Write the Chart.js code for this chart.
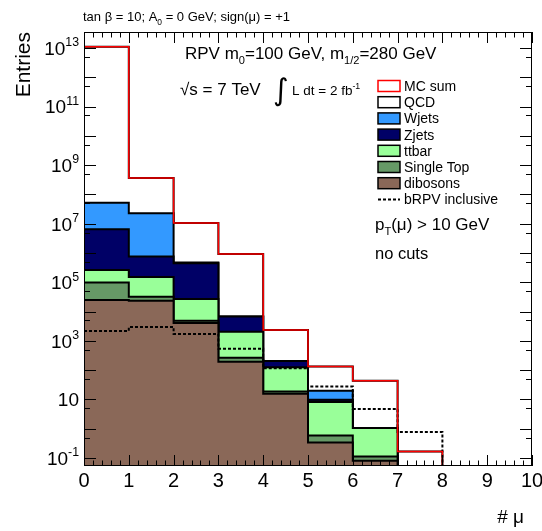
<!DOCTYPE html>
<html>
<head>
<meta charset="utf-8">
<script src="https://cdn.jsdelivr.net/npm/chart.js@4.4.1/dist/chart.umd.min.js"></script>
<style>
  html, body { margin: 0; padding: 0; background: #fff; }
  canvas { display: block; }
</style>
</head>
<body>
<canvas id="muChart" width="542" height="531"></canvas>
<script>
// bin edges of the # mu distribution (10 bins of width 1)
const binEdges = [0, 1, 2, 3, 4, 5, 6, 7, 8, 9, 10];

// entries per bin
const qcd       = [1.1e13, 3.4e8, 1.02e7, 9.2e5, 2.16e3, 113, 42, 0.167, 0, 0];
const wjets     = [4.6e7, 2.21e7, 2.1e4, 0, 0, 10, 0, 0, 0, 0];
const zjets     = [6.2e6, 6.1e5, 4.22e5, 4.7e3, 81, 1.6, 0, 0, 0, 0];
const ttbar     = [1.65e5, 1.19e5, 2.23e4, 1.8e3, 107, 7.5, 0.94, 0, 0, 0];
const singleTop = [7.3e4, 9.0e3, 720, 71, 3.1, 0.25, 0.032, 0, 0, 0];
const dibosons  = [2.5e4, 2.33e4, 4.1e3, 192, 15.5, 0.34, 0.08, 0, 0, 0];
const bRPV      = [2.19e3, 3.0e3, 1.73e3, 533, 117, 27.5, 4.67, 0.77, 0, 0];

// axis ticks
const yLabelPowers = [-1, 1, 3, 5, 7, 9, 11, 13];
const xTickLabels = ['0', '1', '2', '3', '4', '5', '6', '7', '8', '9', '10'];

const FONT = '"Liberation Sans", Arial, Helvetica, sans-serif';
const EMPTY = 1e-4; // empty bins go below the axis

// stack from bottom to top
const stack = [
    { label: 'dibosons',   values: dibosons,  color: '#8a6858' },
    { label: 'Single Top', values: singleTop, color: '#669966' },
    { label: 'ttbar',      values: ttbar,     color: '#99ff99' },
    { label: 'Zjets',      values: zjets,     color: '#000066' },
    { label: 'Wjets',      values: wjets,     color: '#3399ff' },
    { label: 'QCD',        values: qcd,       color: '#ffffff' }
];

// histogram -> points for a stepped line
function toSteps(values) {
    return binEdges.map((x, i) => {
        const v = values[Math.min(i, values.length - 1)];
        return { x: x, y: v > 0 ? v : EMPTY };
    });
}

const datasets = [];
let running = new Array(binEdges.length - 1).fill(0);
stack.forEach((h, k) => {
    running = running.map((s, i) => s + h.values[i]);
    datasets.push({
        label: h.label,
        data: toSteps(running),
        backgroundColor: h.color,
        borderColor: '#000',
        borderWidth: 2,
        fill: 'start',
        order: 2 + k
    });
});
const mcSum = running.slice();

datasets.push({
    label: 'MC sum',
    data: toSteps(mcSum),
    borderColor: '#ff0000',
    borderWidth: 1.5,
    fill: false,
    order: 0
});
datasets.push({
    label: 'bRPV inclusive',
    data: toSteps(bRPV),
    borderColor: '#000',
    borderWidth: 2,
    borderDash: [3, 2],
    fill: false,
    order: 1
});

// text with sub/superscripts: parts = [[text, mode]], mode 0 normal, 1 sub, 2 sup
function drawRich(ctx, x, y, parts, size, align) {
    const small = size * 0.65;
    const widths = parts.map(([t, m]) => {
        ctx.font = (m ? small : size) + 'px ' + FONT;
        return ctx.measureText(t).width;
    });
    const total = widths.reduce((a, b) => a + b, 0);
    let cx = align === 'right' ? x - total : (align === 'center' ? x - total / 2 : x);
    ctx.textAlign = 'left';
    ctx.textBaseline = 'alphabetic';
    parts.forEach(([t, m], i) => {
        ctx.font = (m ? small : size) + 'px ' + FONT;
        const dy = m === 1 ? size * 0.3 : (m === 2 ? -size * 0.45 : 0);
        ctx.fillText(t, cx, y + dy);
        cx += widths[i];
    });
}

// ROOT style frame, inward ticks, labels, legend and captions
const rootFrame = {
    id: 'rootFrame',
    afterDraw(chart) {
        const { ctx, chartArea: a, scales: { x, y } } = chart;
        ctx.save();
        ctx.strokeStyle = '#000';
        ctx.fillStyle = '#000';
        ctx.lineWidth = 1;

        // frame
        ctx.strokeRect(a.left + 0.5, a.top + 0.5, a.right - a.left - 1, a.bottom - a.top - 1);

        ctx.beginPath();
        // x ticks, bottom and top
        for (let i = 0; i <= 50; i++) {
            const px = Math.round(x.getPixelForValue(i / 5)) + 0.5;
            const len = i % 5 === 0 ? 11 : 5.5;
            ctx.moveTo(px, a.bottom);
            ctx.lineTo(px, a.bottom - len);
            ctx.moveTo(px, a.top);
            ctx.lineTo(px, a.top + len);
        }
        // y ticks, left and right
        for (let p = -2; p <= 14; p++) {
            [[1, 12], [5, 6]].forEach(([m, len]) => {
                const v = m * Math.pow(10, p);
                if (v < y.min || v > y.max) return;
                const py = Math.round(y.getPixelForValue(v)) + 0.5;
                ctx.moveTo(a.left, py);
                ctx.lineTo(a.left + len, py);
                ctx.moveTo(a.right, py);
                ctx.lineTo(a.right - len, py);
            });
        }
        ctx.stroke();

        // y labels
        yLabelPowers.forEach(p => {
            const py = y.getPixelForValue(Math.pow(10, p));
            const parts = p === 1 ? [['10', 0]] : [['10', 0], [String(p), 2]];
            drawRich(ctx, a.left - 5, py + 6.8, parts, 19, 'right');
        });
        // x labels
        xTickLabels.forEach((t, i) => {
            drawRich(ctx, x.getPixelForValue(i), 487, [[t, 0]], 20, 'center');
        });
        // axis titles
        drawRich(ctx, 524, 523, [['# \u03bc', 0]], 19, 'right');
        ctx.save();
        ctx.translate(30, 32);
        ctx.rotate(-Math.PI / 2);
        drawRich(ctx, 0, 0, [['Entries', 0]], 21, 'right');
        ctx.restore();

        // captions
        drawRich(ctx, 83, 21, [['tan \u03b2 = 10; A', 0], ['0', 1], [' = 0 GeV; sign(\u03bc) = +1', 0]], 13);
        drawRich(ctx, 185, 59, [['RPV m', 0], ['0', 1], ['=100 GeV, m', 0], ['1/2', 1], ['=280 GeV', 0]], 17);
        drawRich(ctx, 180, 95, [['\u221as = 7 TeV', 0]], 17);
        ctx.font = '30px "DejaVu Sans", sans-serif';
        ctx.fillText('\u222b', 273, 100);
        drawRich(ctx, 292, 95, [['L dt = 2 fb', 0], ['-1', 2]], 13.5);
        drawRich(ctx, 375, 230, [['p', 0], ['T', 1], ['(\u03bc) > 10 GeV', 0]], 17);
        drawRich(ctx, 375, 259, [['no cuts', 0]], 16.5);

        // legend
        const rows = [
            { label: 'MC sum', fill: '#ffffff', line: '#ff0000' },
            { label: 'QCD', fill: stack[5].color, line: '#000' },
            { label: 'Wjets', fill: stack[4].color, line: '#000' },
            { label: 'Zjets', fill: stack[3].color, line: '#000' },
            { label: 'ttbar', fill: stack[2].color, line: '#000' },
            { label: 'Single Top', fill: stack[1].color, line: '#000' },
            { label: 'dibosons', fill: stack[0].color, line: '#000' },
            { label: 'bRPV inclusive', dashed: true }
        ];
        rows.forEach((r, i) => {
            const cy = 86 + i * 16.2;
            if (r.dashed) {
                ctx.save();
                ctx.setLineDash([3, 2]);
                ctx.lineWidth = 2;
                ctx.beginPath();
                ctx.moveTo(378, Math.round(cy) + 0.5);
                ctx.lineTo(400, Math.round(cy) + 0.5);
                ctx.stroke();
                ctx.restore();
            } else {
                ctx.fillStyle = r.fill;
                ctx.fillRect(378, cy - 5.5, 22, 11);
                ctx.strokeStyle = r.line;
                ctx.lineWidth = 1.5;
                ctx.strokeRect(378, cy - 5.5, 22, 11);
                ctx.fillStyle = '#000';
            }
            drawRich(ctx, 404, cy + 5, [[r.label, 0]], 14);
        });
        ctx.restore();
    }
};

new Chart(document.getElementById('muChart'), {
    type: 'line',
    data: { datasets: datasets },
    options: {
        responsive: false,
        animation: false,
        layout: { padding: { left: 84, right: 10, top: 32, bottom: 65 } },
        elements: {
            line: { stepped: true, tension: 0 },
            point: { radius: 0, hoverRadius: 0 }
        },
        scales: {
            x: { type: 'linear', min: 0, max: 10, display: false },
            y: { type: 'logarithmic', min: 0.0533, max: 3.52e13, display: false }
        },
        plugins: {
            legend: { display: false },
            tooltip: { enabled: false },
            filler: { propagate: false }
        }
    },
    plugins: [rootFrame]
});
</script>
</body>
</html>
